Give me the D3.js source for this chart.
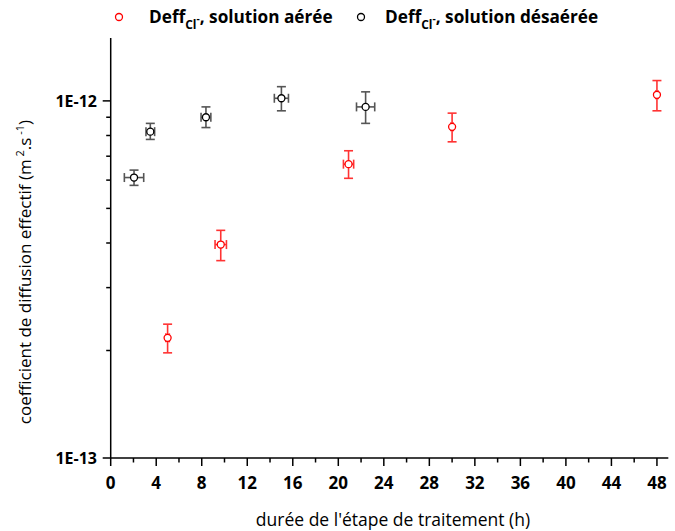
<!DOCTYPE html>
<html><head><meta charset="utf-8">
<script src="https://cdn.jsdelivr.net/npm/d3@7"></script>
<style>body{margin:0;background:#fff}svg{display:block}</style>
</head><body>
<svg id="c" width="675" height="531"></svg>
<script>
// Data: hours, value, y error low/high, x error
const aereeX    = [5, 9.67, 20.9, 30, 48];
const aereeY    = [2.17e-13, 3.96e-13, 6.65e-13, 8.46e-13, 1.04e-12];
const aereeYlo  = [1.97e-13, 3.57e-13, 6.07e-13, 7.68e-13, 9.38e-13];
const aereeYhi  = [2.37e-13, 4.34e-13, 7.25e-13, 9.24e-13, 1.14e-12];
const aereeXerr = [0.15, 0.5, 0.45, 0.1, 0.1];

const desaereeX    = [2.05, 3.48, 8.37, 15.0, 22.4];
const desaereeY    = [6.1e-13, 8.2e-13, 9.0e-13, 1.017e-12, 9.62e-13];
const desaereeYlo  = [5.8e-13, 7.8e-13, 8.42e-13, 9.38e-13, 8.65e-13];
const desaereeYhi  = [6.4e-13, 8.65e-13, 9.62e-13, 1.096e-12, 1.06e-12];
const desaereeXerr = [0.85, 0.38, 0.43, 0.62, 0.8];

const xTicks = [0,4,8,12,16,20,24,28,32,36,40,44,48];
const xMinor = [2,6,10,14,18,22,26,30,34,38,42,46];
const yTicks = [1e-13, 1e-12];
const yTickLabels = ["1E-13", "1E-12"];
const yMinor = [2e-13,3e-13,4e-13,5e-13,6e-13,7e-13,8e-13,9e-13];

const svg = d3.select("#c");
const x = d3.scaleLinear().domain([0, 49]).range([110.7, 110.7 + 49*11.38]);
const y = d3.scaleLog().domain([1e-13, 1.5e-12]).range([458, 38]);

const font = "'Open Sans', sans-serif";

// axes
const ax = svg.append("g").attr("stroke", "#000").attr("stroke-width", 1.5);
ax.append("line").attr("x1", x(0)).attr("x2", x(0)).attr("y1", y.range()[1]).attr("y2", y.range()[0]);
ax.append("line").attr("x1", x(0)).attr("x2", x.range()[1]).attr("y1", y(1e-13)).attr("y2", y(1e-13));
ax.selectAll(".xt").data(xTicks).join("line").attr("x1", d=>x(d)).attr("x2", d=>x(d)).attr("y1", 458).attr("y2", 466);
ax.selectAll(".xm").data(xMinor).join("line").attr("x1", d=>x(d)).attr("x2", d=>x(d)).attr("y1", 458).attr("y2", 462.5);
ax.selectAll(".yt").data(yTicks).join("line").attr("x1", x(0)-8).attr("x2", x(0)).attr("y1", d=>y(d)).attr("y2", d=>y(d));
ax.selectAll(".ym").data(yMinor).join("line").attr("x1", x(0)-4.5).attr("x2", x(0)).attr("y1", d=>y(d)).attr("y2", d=>y(d));

svg.selectAll(".xl").data(xTicks).join("text")
  .attr("x", d=>x(d)).attr("y", 489).attr("text-anchor", "middle")
  .attr("font-family", font).attr("font-weight", "bold").attr("font-size", 17).text(d=>d);
svg.selectAll(".yl").data(yTicks).join("text")
  .attr("x", 97).attr("y", d=>y(d)+6).attr("text-anchor", "end")
  .attr("font-family", font).attr("font-weight", "bold").attr("font-size", 16)
  .text((d,i)=>yTickLabels[i]);

// axis titles
svg.append("text").attr("x", 393).attr("y", 526).attr("text-anchor", "middle")
  .attr("font-family", font).attr("font-size", 17.5).text("durée de l'étape de traitement (h)");
const yt = svg.append("text").attr("transform", "translate(31,272) rotate(-90)").attr("text-anchor", "middle")
  .attr("font-family", font).attr("font-size", 17);
yt.append("tspan").text("coefficient de diffusion effectif (m");
yt.append("tspan").attr("dy", -7).attr("font-size", 11).text(" 2");
yt.append("tspan").attr("dy", 7).text(".s");
yt.append("tspan").attr("dy", -7).attr("font-size", 11).text(" -1");
yt.append("tspan").attr("dy", 7).text(")");

// series drawing
function drawSeries(X, Y, lo, hi, xe, col, barCol) {
  const g = svg.append("g");
  const d = X.map((v,i)=>({x:v, y:Y[i], lo:lo[i], hi:hi[i], xe:xe[i]}));
  const cap = 4.5;
  const eb = g.append("g").attr("stroke", barCol).attr("stroke-width", 1.6).attr("fill", "none");
  d.forEach(p => {
    eb.append("line").attr("x1", x(p.x)).attr("x2", x(p.x)).attr("y1", y(p.lo)).attr("y2", y(p.hi));
    eb.append("line").attr("x1", x(p.x)-cap).attr("x2", x(p.x)+cap).attr("y1", y(p.lo)).attr("y2", y(p.lo));
    eb.append("line").attr("x1", x(p.x)-cap).attr("x2", x(p.x)+cap).attr("y1", y(p.hi)).attr("y2", y(p.hi));
    eb.append("line").attr("x1", x(p.x-p.xe)).attr("x2", x(p.x+p.xe)).attr("y1", y(p.y)).attr("y2", y(p.y));
    eb.append("line").attr("x1", x(p.x-p.xe)).attr("x2", x(p.x-p.xe)).attr("y1", y(p.y)-cap).attr("y2", y(p.y)+cap);
    eb.append("line").attr("x1", x(p.x+p.xe)).attr("x2", x(p.x+p.xe)).attr("y1", y(p.y)-cap).attr("y2", y(p.y)+cap);
  });
  g.selectAll("circle").data(d).join("circle")
    .attr("cx", p=>x(p.x)).attr("cy", p=>y(p.y)).attr("r", 3.5)
    .attr("fill", "#fff").attr("stroke", col).attr("stroke-width", 1.3);
}
drawSeries(desaereeX, desaereeY, desaereeYlo, desaereeYhi, desaereeXerr, "#000", "#555");
drawSeries(aereeX, aereeY, aereeYlo, aereeYhi, aereeXerr, "#ff0000", "#ff3333");

// legend
function legendItem(cx, tx, col, label) {
  svg.append("circle").attr("cx", cx).attr("cy", 17).attr("r", 3.5).attr("fill", "#fff")
    .attr("stroke", col).attr("stroke-width", 1.3);
  const t = svg.append("text").attr("x", tx).attr("y", 23).attr("font-family", font)
    .attr("font-weight", "bold").attr("font-size", 17.2);
  t.append("tspan").text("Deff");
  t.append("tspan").attr("dy", 6).attr("font-size", 12).text("Cl");
  t.append("tspan").attr("dy", -7).attr("font-size", 10).text("-");
  t.append("tspan").attr("dy", 1).text(label);
}
legendItem(119, 149, "#ff0000", ", solution aérée");
legendItem(361, 385, "#000", ", solution désaérée");
</script>
</body></html>
